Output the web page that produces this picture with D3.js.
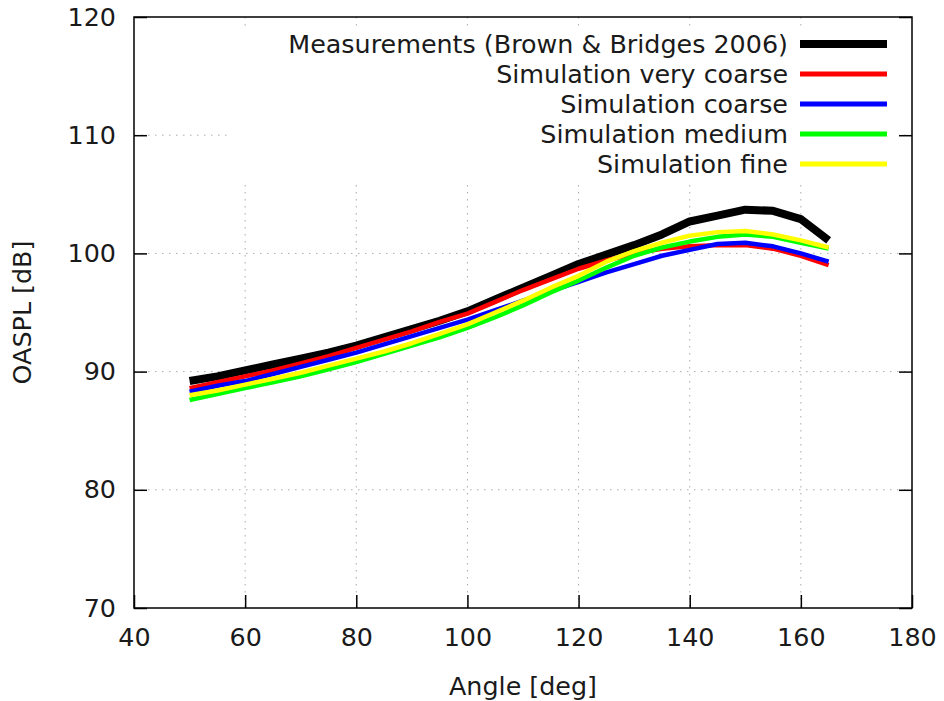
<!DOCTYPE html>
<html>
<head>
<meta charset="utf-8">
<script src="https://cdn.jsdelivr.net/npm/d3@7"></script>
<style>
  body { margin: 0; background: #fff; }
  text { font-family: "DejaVu Sans", sans-serif; fill: #1a1a1a; }
</style>
</head>
<body>
<div id="chart"></div>
<script>
// angles (deg) and OASPL (dB)
const angles = [50, 55, 60, 65, 70, 75, 80, 85, 90, 95, 100, 105, 110, 115, 120, 125, 130, 135, 140, 145, 150, 155, 160, 165];

const measured   = [89.2, 89.6, 90.1, 90.6, 91.1, 91.6, 92.2, 92.9, 93.6, 94.3, 95.1, 96.1, 97.1, 98.1, 99.1, 99.9, 100.7, 101.6, 102.7, 103.2, 103.7, 103.6, 102.9, 101.1];
const veryCoarse = [88.6, 89.1, 89.6, 90.1, 90.7, 91.3, 92.0, 92.7, 93.4, 94.2, 94.9, 95.9, 96.9, 97.8, 98.7, 99.4, 100.0, 100.4, 100.6, 100.7, 100.7, 100.4, 99.8, 99.0];
const coarse     = [88.3, 88.8, 89.2, 89.8, 90.4, 91.0, 91.6, 92.3, 93.0, 93.7, 94.4, 95.2, 96.0, 96.8, 97.6, 98.4, 99.1, 99.8, 100.3, 100.8, 100.9, 100.6, 100.0, 99.3];
const medium     = [87.6, 88.1, 88.6, 89.1, 89.6, 90.2, 90.8, 91.5, 92.2, 92.9, 93.7, 94.6, 95.6, 96.7, 97.7, 98.8, 99.8, 100.5, 101.0, 101.4, 101.6, 101.4, 100.9, 100.4];
const fine       = [88.0, 88.4, 88.9, 89.4, 89.9, 90.5, 91.1, 91.7, 92.4, 93.2, 94.0, 95.0, 96.0, 97.1, 98.1, 99.3, 100.2, 100.9, 101.5, 101.8, 101.9, 101.6, 101.1, 100.5];

const seriesNames = ["Measurements (Brown & Bridges 2006)", "Simulation very coarse", "Simulation coarse", "Simulation medium", "Simulation fine"];
const seriesValues = [measured, veryCoarse, coarse, medium, fine];
const seriesColors = ["#000000", "#ff0000", "#0000ff", "#00ff00", "#ffff00"];

const xTicks = [40, 60, 80, 100, 120, 140, 160, 180];
const yTicks = [70, 80, 90, 100, 110, 120];

const margin = { top: 17, right: 32, bottom: 93, left: 134 },
      width = 944 - margin.left - margin.right,
      height = 701 - margin.top - margin.bottom;

const svg = d3.select("#chart").append("svg")
  .attr("width", 944)
  .attr("height", 701);

const g = svg.append("g")
  .attr("transform", `translate(${margin.left},${margin.top})`);

const x = d3.scaleLinear().domain([40, 180]).range([0, width]);
const y = d3.scaleLinear().domain([70, 120]).range([height, 0]);

// dotted grid
g.append("g").selectAll("line")
  .data(xTicks.slice(1, -1))
  .join("line")
  .attr("x1", d => x(d)).attr("x2", d => x(d))
  .attr("y1", 0).attr("y2", height)
  .attr("stroke", "#aaa").attr("stroke-width", 1)
  .attr("stroke-dasharray", "1.5,5.5");

g.append("g").selectAll("line")
  .data(yTicks.slice(1, -1))
  .join("line")
  .attr("x1", 0).attr("x2", width)
  .attr("y1", d => y(d)).attr("y2", d => y(d))
  .attr("stroke", "#aaa").attr("stroke-width", 1)
  .attr("stroke-dasharray", "1.5,5.5");

// legend box hides grid behind it
const legendRight = 788 - margin.left;
g.append("rect")
  .attr("x", 232 - margin.left).attr("y", 29 - margin.top)
  .attr("width", 671).attr("height", 152)
  .attr("fill", "#fff");

// axes (ticks inward)
g.append("g")
  .attr("transform", `translate(0,${height})`)
  .call(d3.axisBottom(x).tickValues(xTicks).tickSizeInner(-13).tickSizeOuter(0).tickPadding(20))
  .call(a => a.select(".domain").remove())
  .call(a => a.selectAll(".tick line").attr("stroke", "#000").attr("stroke-width", 1.5))
  .call(a => a.selectAll("text").style("font-size", "25.4px").attr("fill", "#1a1a1a"));

g.append("g")
  .call(d3.axisLeft(y).tickValues(yTicks).tickSizeInner(-13).tickSizeOuter(0).tickPadding(18))
  .call(a => a.select(".domain").remove())
  .call(a => a.selectAll(".tick line").attr("stroke", "#000").attr("stroke-width", 1.5))
  .call(a => a.selectAll("text").style("font-size", "25.4px").attr("fill", "#1a1a1a"));

g.append("g")
  .attr("transform", `translate(${width},0)`)
  .call(d3.axisRight(y).tickValues(yTicks).tickSizeInner(-13).tickSizeOuter(0).tickFormat(""))
  .call(a => a.select(".domain").remove())
  .call(a => a.selectAll(".tick line").attr("stroke", "#000").attr("stroke-width", 1.5));

// curves
const line = d3.line()
  .x((d, i) => x(angles[i]))
  .y(d => y(d));

seriesValues.forEach((vals, i) => {
  g.append("path")
    .datum(vals)
    .attr("fill", "none")
    .attr("stroke", seriesColors[i])
    .attr("stroke-width", i === 0 ? 8 : 4.5)
    .attr("stroke-linejoin", "round")
    .attr("d", line);
});

// legend
seriesNames.forEach((name, i) => {
  const ly = 44 - margin.top + i * 30;
  g.append("text")
    .attr("x", legendRight)
    .attr("y", ly)
    .attr("dy", "0.35em")
    .attr("text-anchor", "end")
    .style("font-size", "25.4px")
    .text(name);
  g.append("line")
    .attr("x1", 800 - margin.left).attr("x2", 887 - margin.left)
    .attr("y1", ly).attr("y2", ly)
    .attr("stroke", seriesColors[i])
    .attr("stroke-width", i === 0 ? 8 : 5);
});

// frame
g.append("rect")
  .attr("width", width).attr("height", height)
  .attr("fill", "none")
  .attr("stroke", "#000").attr("stroke-width", 1.5);

// axis titles
svg.append("text")
  .attr("x", margin.left + width / 2)
  .attr("y", 686)
  .attr("dy", "0.35em")
  .attr("text-anchor", "middle")
  .style("font-size", "25.4px")
  .text("Angle [deg]");

svg.append("text")
  .attr("transform", `translate(22,${margin.top + height / 2}) rotate(-90)`)
  .attr("dy", "0.35em")
  .attr("text-anchor", "middle")
  .style("font-size", "25.4px")
  .text("OASPL [dB]");
</script>
</body>
</html>
